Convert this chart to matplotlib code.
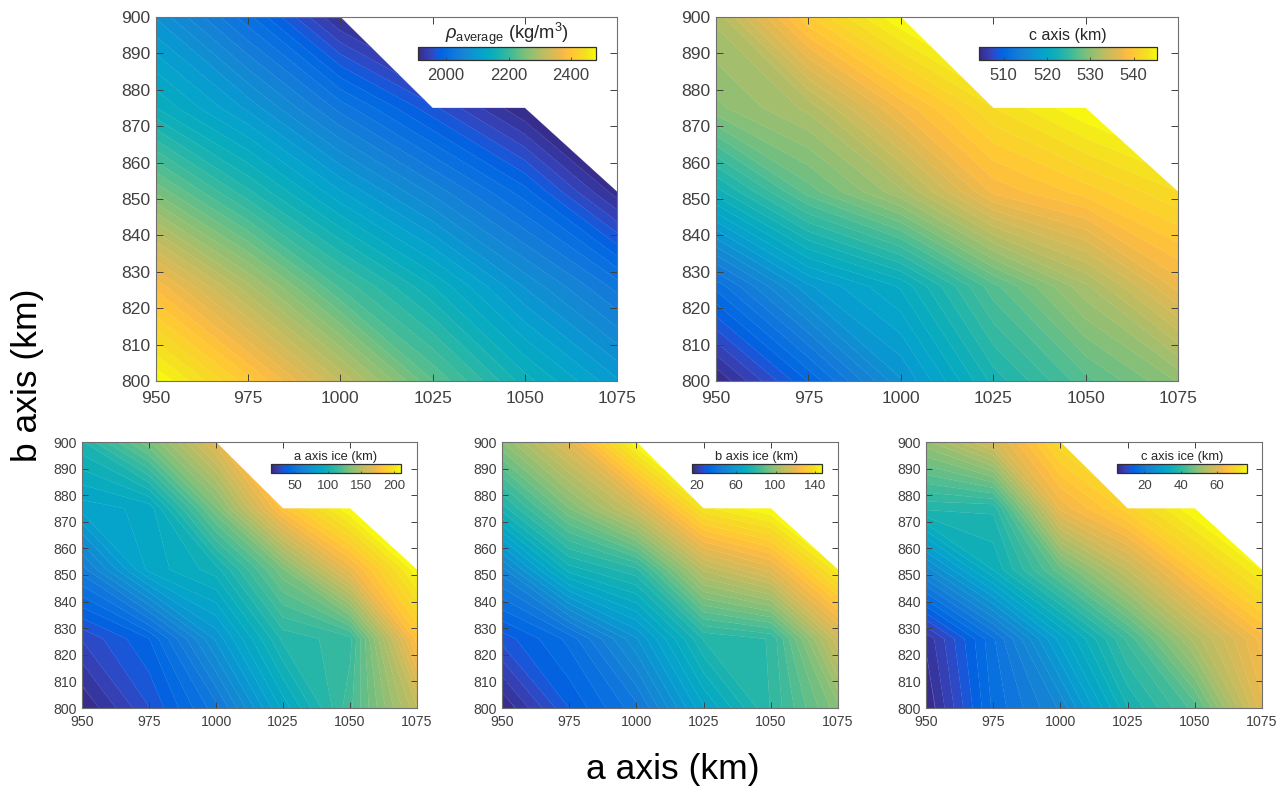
import numpy as np
import matplotlib
matplotlib.use("Agg")
import matplotlib.pyplot as plt
from matplotlib.colors import LinearSegmentedColormap, Normalize
from matplotlib.cm import ScalarMappable

plt.rcParams['font.family'] = ['Liberation Sans', 'DejaVu Sans']
plt.rcParams['mathtext.fontset'] = 'custom'
plt.rcParams['mathtext.rm'] = 'Liberation Sans'
plt.rcParams['mathtext.it'] = 'Liberation Sans:italic'
plt.rcParams['mathtext.bf'] = 'Liberation Sans:bold'

parula_rgb = [
 (0.2081,0.1663,0.5292),(0.2116,0.1898,0.5777),(0.2123,0.2138,0.6270),(0.2081,0.2386,0.6771),
 (0.1959,0.2645,0.7279),(0.1707,0.2919,0.7792),(0.1253,0.3242,0.8303),(0.0591,0.3598,0.8683),
 (0.0117,0.3875,0.8820),(0.0060,0.4086,0.8828),(0.0165,0.4266,0.8786),(0.0329,0.4430,0.8720),
 (0.0498,0.4586,0.8641),(0.0629,0.4737,0.8554),(0.0723,0.4887,0.8467),(0.0779,0.5040,0.8384),
 (0.0793,0.5200,0.8312),(0.0749,0.5375,0.8263),(0.0641,0.5570,0.8240),(0.0488,0.5772,0.8228),
 (0.0343,0.5966,0.8199),(0.0265,0.6137,0.8135),(0.0239,0.6287,0.8038),(0.0231,0.6418,0.7913),
 (0.0228,0.6535,0.7768),(0.0267,0.6642,0.7607),(0.0384,0.6743,0.7436),(0.0590,0.6838,0.7254),
 (0.0843,0.6928,0.7062),(0.1133,0.7015,0.6859),(0.1453,0.7098,0.6646),(0.1801,0.7177,0.6424),
 (0.2178,0.7250,0.6193),(0.2586,0.7317,0.5954),(0.3022,0.7376,0.5712),(0.3482,0.7424,0.5473),
 (0.3953,0.7459,0.5244),(0.4420,0.7481,0.5033),(0.4871,0.7491,0.4840),(0.5300,0.7491,0.4661),
 (0.5709,0.7485,0.4494),(0.6099,0.7473,0.4337),(0.6473,0.7456,0.4188),(0.6834,0.7435,0.4044),
 (0.7184,0.7411,0.3905),(0.7525,0.7384,0.3768),(0.7858,0.7356,0.3633),(0.8185,0.7327,0.3498),
 (0.8507,0.7299,0.3360),(0.8824,0.7274,0.3217),(0.9139,0.7258,0.3063),(0.9450,0.7261,0.2886),
 (0.9739,0.7314,0.2666),(0.9938,0.7455,0.2403),(0.9990,0.7653,0.2164),(0.9955,0.7861,0.1967),
 (0.9880,0.8066,0.1794),(0.9789,0.8271,0.1633),(0.9697,0.8481,0.1475),(0.9626,0.8705,0.1309),
 (0.9589,0.8949,0.1132),(0.9598,0.9218,0.0948),(0.9661,0.9514,0.0755),(0.9763,0.9831,0.0538)]
parula = LinearSegmentedColormap.from_list('parula', parula_rgb, N=256)

n = np.nan
a_axis = [950, 975, 1000, 1025, 1050, 1075]
b_axis = [800, 826, 852, 875, 900]

rho_average = [
 [2480, 2406, 2320, 2229, 2155, 2098],
 [2383, 2298, 2212, 2149, 2081, 2024],
 [2252, 2178, 2110, 2052, 1995, 1916],
 [2149, 2092, 2024, 1967, 1910, n],
 [2081, 2007, 1921, n, n, n]]
c_axis = [
 [504.3, 510.1, 516.6, 522.8, 526.9, 530.2],
 [511.3, 517.5, 520.7, 526.9, 531.8, 537.2],
 [522.0, 527.7, 531.8, 538.0, 540.1, 542.5],
 [529.8, 532.3, 538.0, 542.5, 545.4, n],
 [532.3, 540.5, 545.4, n, n, n]]
a_ice = [
 [15, 33, 54, 89, 118, 155],
 [29, 42, 75, 107, 113, 181],
 [58, 89, 99, 132, 171, 209],
 [85, 89, 132, 181, 210, n],
 [105, 132, 167, n, n, n]]
b_ice = [
 [15.6, 31, 42, 64, 80, 97],
 [29, 38, 55, 77, 80, 113],
 [48, 72, 79, 108, 118, 143],
 [75, 95, 113, 140, 147, n],
 [98, 118, 147, n, n, n]]
c_ice = [
 [5, 17, 23.6, 36.5, 44, 61],
 [7, 18, 30.7, 42, 54, 64],
 [24, 35, 46, 56.5, 67, 75],
 [38.6, 38.6, 62, 69, 76.5, n],
 [51, 59, 71, n, n, n]]

x_ticks = [950, 975, 1000, 1025, 1050, 1075]
y_ticks = [800, 810, 820, 830, 840, 850, 860, 870, 880, 890, 900]

W, H = 1285, 787
GRAY = '#404040'
fig = plt.figure(figsize=(W/100, H/100), dpi=100, facecolor='white')

def box(x0, y0, x1, y1):
    return [x0/W, 1-y1/H, (x1-x0)/W, (y1-y0)/H]

def panel(pos, cpos, data, vmin, vmax, cticks, title, fs, cfs, tfs, tick_len, xpad, ypad, tpad, cpad):
    ax = fig.add_axes(box(*pos))
    levels = np.linspace(vmin, vmax, 44)
    cs = ax.contourf(a_axis, b_axis, np.array(data, float), levels=levels, cmap=parula,
                     extend='both', corner_mask=True, antialiased=True)
    cs.set_edgecolor('face')
    cs.set_linewidth(0.2)
    ax.set_xlim(950, 1075)
    ax.set_ylim(800, 900)
    ax.set_xticks(x_ticks)
    ax.set_yticks(y_ticks)
    ax.tick_params(direction='in', top=True, right=True, length=tick_len, width=0.7,
                   color=GRAY, labelcolor=GRAY, labelsize=fs)
    ax.tick_params(axis='x', pad=xpad)
    ax.tick_params(axis='y', pad=ypad)
    for s in ax.spines.values():
        s.set_color('#707070')
        s.set_linewidth(0.8)
    cax = fig.add_axes(box(*cpos))
    sm = ScalarMappable(norm=Normalize(vmin, vmax), cmap=parula)
    cb = fig.colorbar(sm, cax=cax, orientation='horizontal', ticks=cticks)
    cb.ax.tick_params(direction='in', length=tick_len*0.4, width=0.6, color=GRAY,
                      labelcolor=GRAY, labelsize=cfs, pad=cpad)
    cb.outline.set_edgecolor('#303030')
    cb.outline.set_linewidth(0.9)
    cax.set_title(title, fontsize=tfs, color='#262626', pad=tpad)

panel((156, 17, 617, 381), (418, 47, 596, 60), rho_average, 1910, 2480, [2000, 2200, 2400],
      r'$\rho_{\mathrm{average}}$ (kg/m$^3$)', 12.6, 12, 13.2, 5, 7, 4, 3, 6)
panel((716, 17, 1178, 381), (979, 47, 1157, 60), c_axis, 504.3, 545.4, [510, 520, 530, 540],
      'c axis (km)', 12.6, 12, 11.5, 5, 7, 4, 5, 6)
panel((82, 442, 417, 708), (271, 464, 401, 473), a_ice, 15, 210, [50, 100, 150, 200],
      'a axis ice (km)', 10.2, 9.5, 9.3, 4, 5, 3.5, 3, 5)
panel((502, 442, 838, 708), (692, 464, 822, 473), b_ice, 15.6, 147, [20, 60, 100, 140],
      'b axis ice (km)', 10.2, 9.5, 9.3, 4, 5, 3.5, 3, 5)
panel((926, 442, 1262, 708), (1117, 464, 1247, 473), c_ice, 5, 76.5, [20, 40, 60],
      'c axis ice (km)', 10.2, 9.5, 9.3, 4, 5, 3.5, 3, 5)

fig.text(673/W, 1-769/H, 'a axis (km)', fontsize=25.5, color='black', ha='center', va='center')
fig.text(28/W, 1-375/H, 'b axis (km)', fontsize=25.5, color='black', ha='center', va='center',
         rotation=90)

fig.savefig('out.png', dpi=100, facecolor='white')
